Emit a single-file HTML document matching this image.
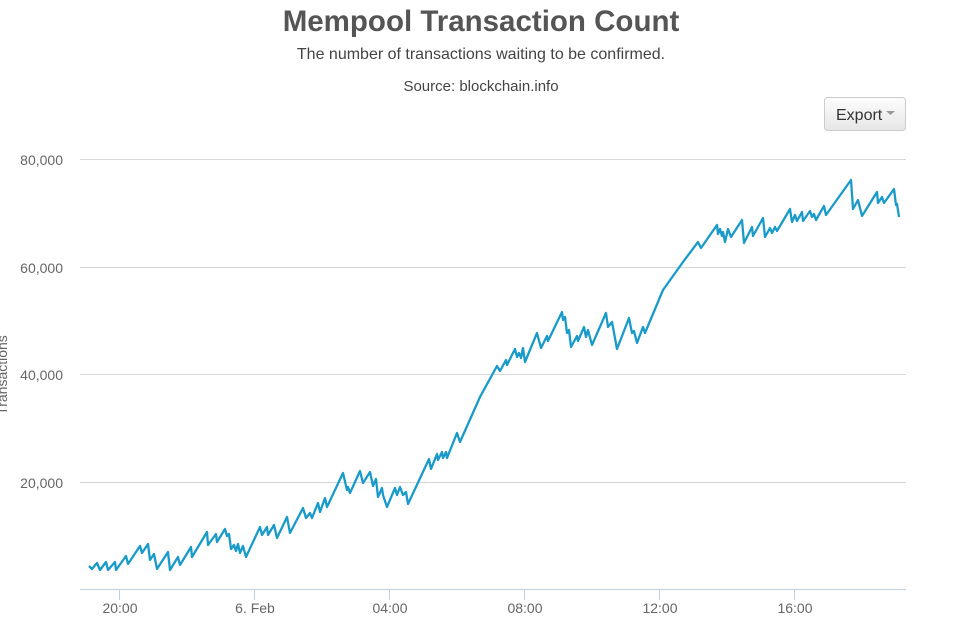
<!DOCTYPE html>
<html><head><meta charset="utf-8"><style>
body{margin:0;width:956px;height:637px;background:#fff;overflow:hidden;font-family:"Liberation Sans",sans-serif;}
</style></head><body>
<svg width="956" height="637" xmlns="http://www.w3.org/2000/svg" style="font-family:'Liberation Sans',sans-serif">
<text x="481" y="31" text-anchor="middle" font-size="29.5" font-weight="bold" fill="#555">Mempool Transaction Count</text>
<text x="481" y="59" text-anchor="middle" font-size="16" fill="#444">The number of transactions waiting to be confirmed.</text>
<text x="481" y="91" text-anchor="middle" font-size="15" fill="#444">Source: blockchain.info</text>
<defs><linearGradient id="g" x1="0" y1="0" x2="0" y2="1"><stop offset="0" stop-color="#fdfdfd"/><stop offset="1" stop-color="#e6e6e6"/></linearGradient></defs>
<rect x="824.5" y="97.5" width="81" height="33" rx="3" fill="url(#g)" stroke="#ccc"/>
<text x="836" y="120" font-size="16" fill="#333">Export</text>
<path d="M886 111h9l-4.5 4z" fill="#999"/>
<g stroke="#d8d8d8" stroke-width="1">
<line x1="80" y1="159.5" x2="906" y2="159.5"/>
<line x1="80" y1="267.5" x2="906" y2="267.5"/>
<line x1="80" y1="374.5" x2="906" y2="374.5"/>
<line x1="80" y1="482.5" x2="906" y2="482.5"/>
</g>
<line x1="80" y1="589.5" x2="906" y2="589.5" stroke="#c0d0e0"/>
<g stroke="#c0d0e0"><line x1="119.5" y1="590" x2="119.5" y2="600"/><line x1="254.5" y1="590" x2="254.5" y2="600"/><line x1="389.5" y1="590" x2="389.5" y2="600"/><line x1="524.5" y1="590" x2="524.5" y2="600"/><line x1="659.5" y1="590" x2="659.5" y2="600"/><line x1="794.5" y1="590" x2="794.5" y2="600"/></g>
<g font-size="14" fill="#666" text-anchor="end">
<text x="63" y="165">80,000</text><text x="63" y="273">60,000</text><text x="63" y="380">40,000</text><text x="63" y="488">20,000</text>
</g>
<g font-size="14" fill="#666" text-anchor="middle">
<text x="120" y="613">20:00</text><text x="255" y="613">6. Feb</text><text x="390" y="613">04:00</text><text x="525" y="613">08:00</text><text x="660" y="613">12:00</text><text x="795" y="613">16:00</text>
</g>
<text transform="translate(7,375) rotate(-90)" text-anchor="middle" font-size="14" fill="#666">Transactions</text>
<polyline fill="none" stroke="#1a9ac9" stroke-width="2.3" stroke-linejoin="round" points="89,566 92,569 97,563 100,570 106,562 108,570 115,562 116,570 126,556 128,564 140,546 142,553 148,544 150,560 154,554 157,569 168,552 170,570 178,557 180,565 191,547 192,557 207,532 208,545 216,534 217,542 225,529 227,536 229,534 231,549 234,545 236,551 238,544 240,553 243,546 246,557 260,527 262,535 267,527 268,535 274,525 277,538 287,517 290,533 303,508 306,518 310,513 312,518 318,503 320,512 325,498 327,507 343,473 347,490 348,487 350,493 360,471 363,483 370,472 373,486 376,479 378,497 382,488 383,495 387,507 395,488 397,495 400,487 403,495 406,492 408,504 429,459 431,469 437,454 438,460 442,452 443,458 446,452 447,458 457,433 460,442 480,397 497,366 500,371 506,360 507,365 515,349 517,357 519,353 521,358 523,348 525,362 537,333 541,348 547,336 548,341 562,312 563,320 565,317 567,333 569,330 571,347 577,336 578,341 584,327 586,337 588,330 592,345 606,313 608,327 612,322 617,349 629,318 632,333 634,331 637,343 643,327 645,333 663,290 683,262 698,242 701,248 717,225 718,234 720,229 722,236 723,232 725,242 728,229 731,237 742,220 744,243 752,227 753,236 763,218 765,237 770,228 772,233 775,227 777,231 790,209 792,222 795,215 797,221 802,212 803,221 810,211 812,217 814,214 816,220 824,206 826,215 851,180 853,209 858,200 862,216 877,192 878,203 882,197 884,203 894,189 896,205 897,204 899,217"/>
</svg>
</body></html>
